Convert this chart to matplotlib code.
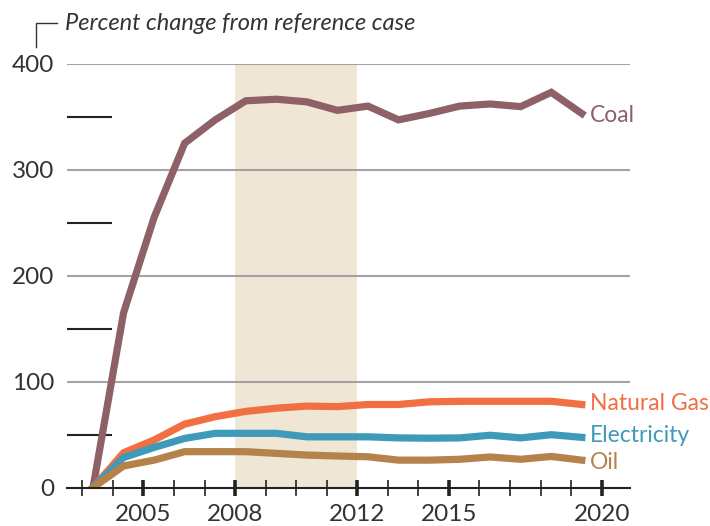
import matplotlib.pyplot as plt
import numpy as np

plt.rcParams['font.family'] = ['Lato', 'DejaVu Sans']

# data
years = np.arange(2003, 2020)
coal = [0, 165, 255, 325, 347, 365, 366.5, 364, 356, 360, 347, 353, 360, 362, 359.5, 373, 353]
gas = [0, 33, 45, 60, 67, 72, 75, 77, 76.5, 78.5, 78.5, 81, 81.5, 81.5, 81.5, 81.5, 78.5]
elec = [0, 28.5, 38, 46.5, 51.3, 51.3, 51.3, 48, 48, 48, 47, 46.7, 47, 49.5, 47, 50, 47.5]
oil = [0, 20.5, 26, 34, 34, 34, 32.4, 30.8, 29.9, 29.2, 26, 26, 26.8, 29, 26.8, 29.5, 26]

names = ['Coal', 'Natural Gas', 'Electricity', 'Oil']
colors = ['#8E6068', '#F26E43', '#3E9AB9', '#B5824A']
label_y = [351, 79, 49, 24]

major_years = [2005, 2008, 2012, 2015, 2020]
band = (2008, 2012)

fig = plt.figure(figsize=(7.1, 5.26), dpi=100)
ax = fig.add_axes([0.094, 0.0728, 0.793, 0.8061])

xoff = 0.35  # points sit a bit past the year tick
ax.set_xlim(2002.49, 2020.92)
ax.set_ylim(0, 400)

ax.axvspan(band[0], band[1], color='#F0E6D6', zorder=0, lw=0)

for v in [100, 200, 300, 400]:
    ax.axhline(v, color='#A3A3A3', lw=1.5, zorder=1)
for v in [50, 150, 250, 350]:
    ax.axhline(v, xmin=0, xmax=0.078, color='#222222', lw=1.5, zorder=1)

series = [coal, gas, elec, oil]
for s, c, n, ly in zip(series, colors, names, label_y):
    ax.plot(years + xoff, s, color=c, lw=5.2, solid_joinstyle='miter', zorder=3)
    ax.text(2019.62, ly, n, color=c, fontsize=16.5, va='center', ha='left')

for side in ['left', 'right', 'top']:
    ax.spines[side].set_visible(False)
ax.spines['bottom'].set_color('#222222')
ax.spines['bottom'].set_linewidth(1.5)
ax.spines['bottom'].set_zorder(4)

ax.set_xticks(major_years)
ax.set_xticklabels([str(y) for y in major_years])
ax.set_xticks([y for y in range(2003, 2021) if y not in major_years], minor=True)
ax.tick_params(axis='x', which='major', direction='inout', length=11, width=2.6,
               color='#222222', labelsize=17.5, labelcolor='#333333', pad=6)
ax.tick_params(axis='x', which='minor', direction='inout', length=11, width=1.2,
               color='#222222')

ax.set_yticks([0, 100, 200, 300, 400])
ax.tick_params(axis='y', length=0, labelsize=17.5, labelcolor='#333333', pad=9)

# title with small bracket
fig.text(65 / 710, 1 - 24 / 526, 'Percent change from reference case', style='italic',
         fontsize=17, color='#333333', va='center', ha='left')
fig.add_artist(plt.Line2D([36 / 710, 36 / 710, 57 / 710],
                          [1 - 47 / 526, 1 - 23 / 526, 1 - 23 / 526],
                          color='#333333', lw=1))

fig.savefig('out.png', dpi=100)
